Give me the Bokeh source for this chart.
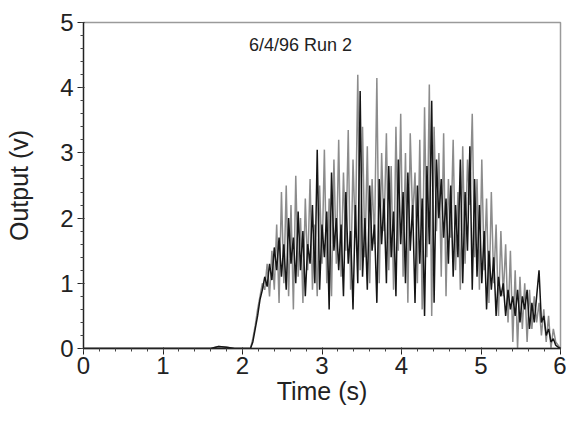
import numpy as np
from bokeh.plotting import figure
from bokeh.models import Range1d, Label, FixedTicker
from bokeh.embed import file_html
from bokeh.resources import INLINE

# baseline before the run starts
t_base = [0.0, 1.0, 1.6, 1.7, 1.8, 1.9, 2.0, 2.1]
v_base = [0.0, 0.0, 0.0, 0.03, 0.02, 0.0, 0.0, 0.0]

# sampling grid of the run (2.10 s .. 6.00 s, 0.03 s step)
t_run = np.round(2.10 + 0.03 * np.arange(131), 2)

black_run = [
    0.0, 0.1, 0.3, 0.5, 0.75, 0.9, 1.1, 0.95, 1.3, 1.05,
    1.55, 1.2, 1.7, 1.1, 1.6, 0.9, 2.0, 1.3, 1.7, 1.0,
    2.1, 1.2, 1.8, 0.8, 1.6, 1.3, 2.2, 1.0, 3.05, 0.9,
    1.9, 1.4, 2.1, 0.6, 2.7, 1.5, 2.0, 1.2, 1.9, 0.8,
    2.4, 1.3, 1.8, 0.6, 2.2, 1.0, 3.95, 1.1, 2.0, 0.9,
    2.5, 1.5, 1.9, 0.7, 2.6, 1.6, 2.3, 1.0, 2.8, 1.4,
    2.1, 0.8, 2.9, 1.6, 2.4, 1.0, 2.7, 1.5, 2.2, 0.7,
    2.5, 1.3, 2.3, 0.5, 2.8, 1.6, 3.8, 0.7, 2.9, 2.0,
    2.6, 1.7, 2.3, 1.3, 2.5, 1.1, 2.2, 1.4, 2.9, 1.0,
    2.4, 1.5, 3.1, 0.9, 2.6, 1.1, 2.2, 1.0, 1.8, 0.6,
    1.5, 0.9, 1.4, 0.5, 1.1, 0.8, 1.0, 0.5, 0.9, 0.6,
    0.8, 0.5, 0.9, 0.4, 0.8, 0.6, 0.9, 0.3, 0.7, 0.4,
    0.8, 1.2, 0.4, 0.5, 0.2, 0.3, 0.1, 0.15, 0.05, 0.02,
    0.0,
]

gray_run = [
    0.0, 0.15, 0.35, 0.6, 0.8, 1.0, 0.9, 1.3, 0.8, 1.5,
    0.9, 1.9, 0.7, 2.4, 1.0, 2.5, 0.8, 2.2, 0.6, 2.65,
    1.1, 2.0, 0.7, 2.3, 1.2, 2.6, 0.9, 1.9, 0.8, 2.5,
    1.3, 3.05, 1.0, 2.3, 0.8, 2.9, 1.3, 3.2, 1.1, 2.7,
    1.5, 3.35, 0.9, 2.9, 1.7, 4.2, 1.2, 3.4, 1.4, 3.1,
    1.0, 2.6, 1.6, 4.15, 1.0, 3.0, 1.8, 3.3, 1.2, 2.8,
    0.9, 3.4, 1.5, 3.6, 1.1, 3.0, 0.7, 3.3, 2.0, 2.7,
    1.0, 3.2, 0.6, 3.7, 1.4, 4.05, 0.5, 3.4, 1.8, 3.0,
    1.1, 3.3, 0.8, 2.6, 1.7, 3.2, 1.2, 2.4, 0.9, 3.1,
    1.3, 2.9, 2.2, 3.6, 1.4, 2.6, 0.9, 2.9, 1.2, 2.3,
    0.7, 2.4, 1.0, 1.9, 0.5, 1.8, 0.8, 1.6, 0.4, 1.5,
    0.1, 1.2, 0.0, 1.1, 0.3, 1.0, 0.1, 0.9, 0.3, 0.8,
    0.4, 0.7, 0.2, 0.6, 0.1, 0.5, 0.0, 0.3, 0.1, 0.05,
    0.0,
]

x_ticks = [0, 1, 2, 3, 4, 5, 6]
y_ticks = [0, 1, 2, 3, 4, 5]
title_text = "6/4/96 Run 2"
x_label = "Time (s)"
y_label = "Output (v)"

FONT = "Liberation Sans"

p = figure(width=566, height=424, output_backend="svg", toolbar_location=None,
           x_range=Range1d(0, 6), y_range=Range1d(0, 5),
           min_border_left=83, min_border_right=6, min_border_top=22, min_border_bottom=76)
p.background_fill_color = "white"
p.border_fill_color = "white"
p.outline_line_color = "#9a9a9a"
p.outline_line_width = 1.5
p.xgrid.visible = False
p.ygrid.visible = False

gx = list(t_base) + list(t_run)
p.line(gx, list(v_base) + list(gray_run), line_color="#8c8c8c", line_width=1.5)
p.line(gx, list(v_base) + list(black_run), line_color="#151515", line_width=1.5)

for ax, ticks in ((p.xaxis[0], x_ticks), (p.yaxis[0], y_ticks)):
    minors = [round(a * 0.2, 2) for a in range(int(ticks[-1] * 5) + 1)]
    ax.ticker = FixedTicker(ticks=ticks, minor_ticks=minors)
    ax.axis_line_color = "#222"
    ax.axis_line_width = 1.3
    ax.major_tick_line_color = "#222"
    ax.minor_tick_line_color = "#444"
    ax.major_tick_out = 6
    ax.major_tick_in = 1
    ax.minor_tick_out = 3
    ax.minor_tick_in = 0
    ax.major_label_text_font = FONT
    ax.major_label_text_font_size = "24px"
    ax.major_label_text_color = "#222"
    ax.axis_label_text_font = FONT
    ax.axis_label_text_font_size = "25px"
    ax.axis_label_text_font_style = "normal"
    ax.axis_label_text_color = "#222"

p.xaxis.axis_label = x_label
p.yaxis.axis_label = y_label
p.xaxis.major_label_standoff = 2
p.yaxis.major_label_standoff = 4
p.xaxis.axis_label_standoff = 0
p.yaxis.axis_label_standoff = 24

p.add_layout(Label(x=2.73, y=4.66, text=title_text, text_font=FONT, text_font_size="18px",
                   text_color="#222", text_align="center", text_baseline="middle"))

open("out.html", "w").write(file_html(p, INLINE))
